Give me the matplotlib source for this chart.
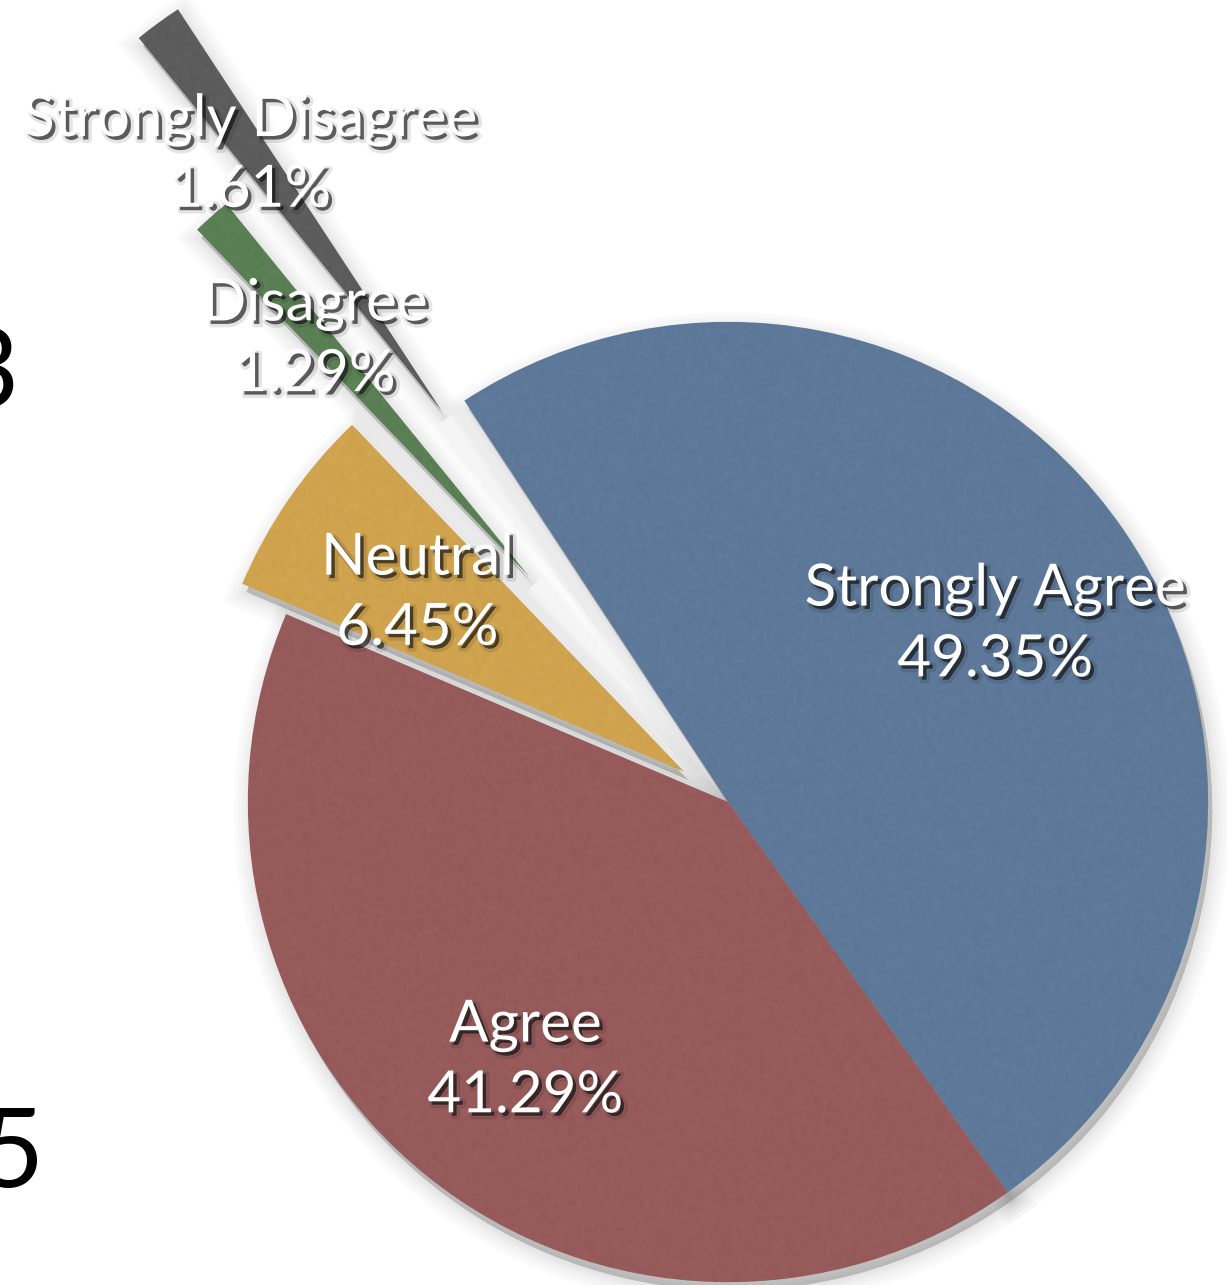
import matplotlib.pyplot as plt
import matplotlib.patheffects as pe
import numpy as np

# survey answers, in the order they go round the pie (clockwise from the top)
answers = ['Strongly Agree', 'Agree', 'Neutral', 'Disagree', 'Strongly Disagree']
shares = [49.35, 41.29, 6.45, 1.29, 1.61]
pull_out = [0, 0, 0.11, 0.62, 1.0]
colors = ['#5b789a', '#985858', '#d5a54c', '#587f52', '#5a5a5a']

labels = [f'{a}\n{s:.2f}%' for a, s in zip(answers, shares)]

fig = plt.figure(figsize=(12.27, 12.85), dpi=100)
ax = fig.add_axes([0, 0, 1, 1])

# soft drop shadow: same pie drawn underneath in black, blurred with strokes
shadow_fx = [pe.Stroke(linewidth=lw, foreground='k', alpha=0.018, offset=(3, -6))
             for lw in (26, 20, 14, 9, 5)]
shadow_fx.append(pe.SimplePatchShadow(offset=(3, -6), shadow_rgbFace='k', alpha=0.2))
sh, _ = ax.pie(shares, explode=pull_out, startangle=123.3, counterclock=False,
               radius=0.99, colors=['none'] * len(shares),
               wedgeprops={'linewidth': 0, 'edgecolor': 'k'})
for w in sh:
    w.set_path_effects(shadow_fx)
    w.set_zorder(1)

wedges, texts = ax.pie(shares, explode=pull_out, labels=labels, labeldistance=0.675,
                       startangle=123.3, counterclock=False, radius=0.99,
                       colors=colors, wedgeprops={'linewidth': 0},
                       textprops={'ha': 'center', 'va': 'center', 'color': 'white',
                                  'fontsize': 42, 'family': 'Lato',
                                  'linespacing': 1.4})
for w in wedges:
    w.set_zorder(2)

# faint paper texture on each slice
rng = np.random.default_rng(3)
grain = rng.normal(0, 1, (400, 400))
for w in wedges:
    im = ax.imshow(grain, cmap='gray', alpha=0.06, extent=(-1.6, 1.1, -1.1, 1.7),
                   zorder=3, interpolation='bilinear')
    im.set_clip_path(w)

text_fx = [pe.Stroke(linewidth=4, foreground='k', alpha=0.1, offset=(3, -3)),
           pe.SimplePatchShadow(offset=(2.5, -2.5), shadow_rgbFace='k', alpha=0.6),
           pe.Normal()]
for t in texts:
    t.set_path_effects(text_fx)
    t.set_zorder(5)
    x, y = t.get_position()
    t.set_position((x, y - 0.012))

ax.set_xlim(-728 / 485, (1227 - 728) / 485)
ax.set_ylim((802 - 1285) / 485, 802 / 485)
ax.set_aspect('equal')
ax.axis('off')

# big digits cut off at the left edge of the slide
fig.text(0.0155, 0.6833, '3', fontsize=80, family='Lato', ha='right', va='baseline')
fig.text(0.036, 0.0763, '5', fontsize=80, family='Lato', ha='right', va='baseline')

fig.savefig('out.png', dpi=100, facecolor='white')
